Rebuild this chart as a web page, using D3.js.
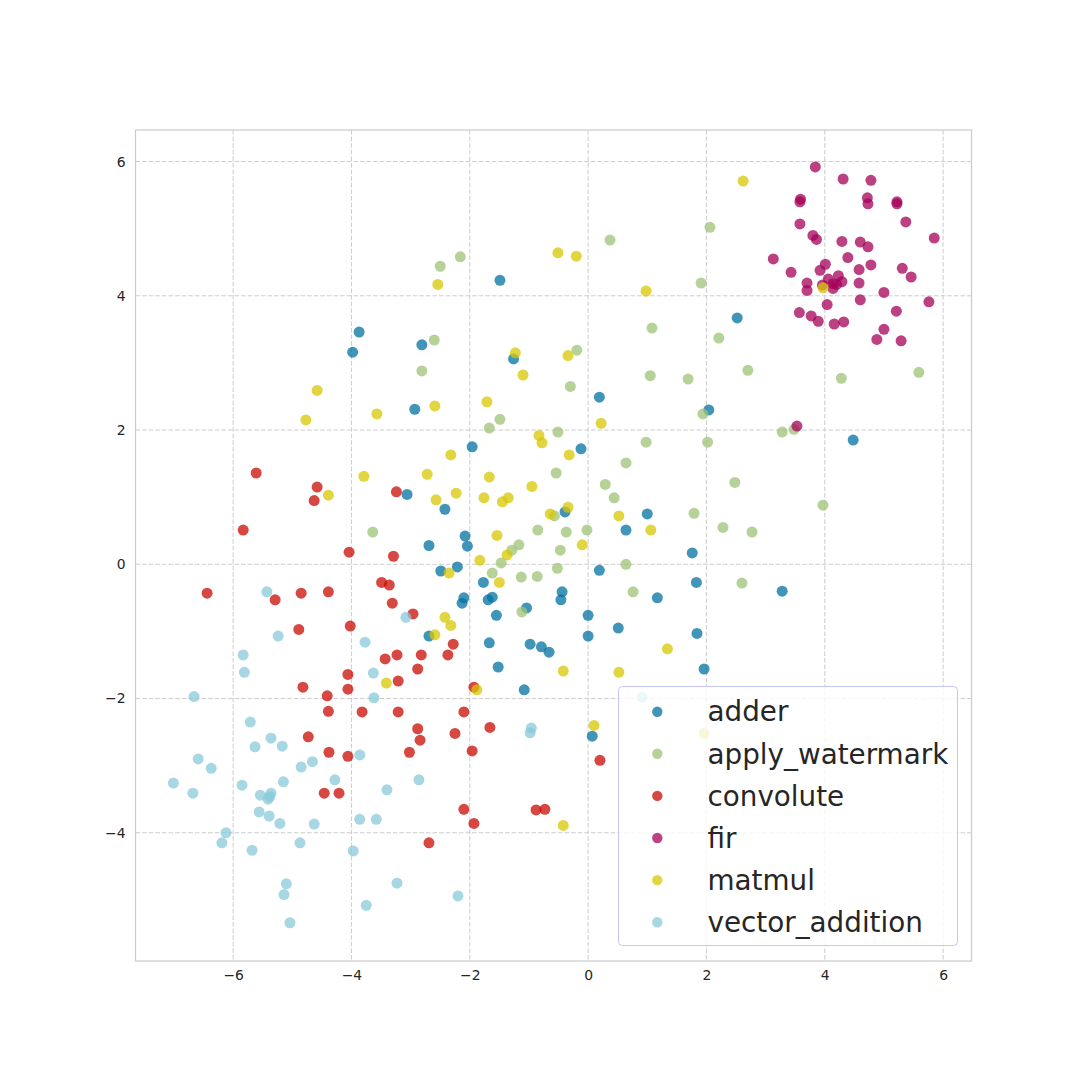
<!DOCTYPE html>
<html>
<head>
<meta charset="utf-8">
<script src="https://cdn.jsdelivr.net/npm/d3@7"></script>
<style>
  html, body { margin: 0; padding: 0; background: #ffffff; }
  svg { display: block; font-family: "DejaVu Sans", sans-serif; }
</style>
</head>
<body>
<svg id="chart" width="1080" height="1080"></svg>
<script>
// ---------- data ----------
const categories = ["adder", "apply_watermark", "convolute", "fir", "matmul", "vector_addition"];
const colors = ["#0272a2", "#9fc377", "#ca0b03", "#a50258", "#d7c703", "#88cada"];
const xTicks = [-6, -4, -2, 0, 2, 4, 6];
const yTicks = [-4, -2, 0, 2, 4, 6];

const adder = [
  [-3.87,3.46],[-1.49,4.23],[2.52,3.67],[-3.98,3.16],[-2.93,2.31],[-3.06,1.04],[-2.81,3.27],[-1.26,3.06],
  [0.19,2.49],[-1.96,1.75],[-0.12,1.72],[-2.42,0.82],[-0.39,0.78],[1.00,0.75],[-2.08,0.42],[-2.69,0.28],
  [-2.04,0.27],[0.64,0.51],[1.76,0.17],[2.04,2.30],[4.48,1.85],[-2.49,-0.10],[-2.21,-0.04],[-1.77,-0.27],
  [0.19,-0.09],[1.83,-0.27],[1.17,-0.50],[-2.10,-0.50],[-2.13,-0.58],[-1.69,-0.53],[-1.62,-0.49],[-0.44,-0.41],
  [-0.46,-0.53],[-1.04,-0.65],[-1.55,-0.76],[0.00,-0.76],[0.00,-1.07],[0.51,-0.95],[1.84,-1.03],[-2.69,-1.07],
  [-1.67,-1.17],[-0.98,-1.19],[-0.79,-1.23],[-0.66,-1.31],[-1.52,-1.53],[-1.08,-1.87],[0.07,-2.56],[3.28,-0.40],
  [1.96,-1.56]
];
const applyWatermark = [
  [-2.50,4.44],[-2.16,4.58],[0.37,4.83],[1.08,3.52],[-2.60,3.34],[2.06,5.02],[1.91,4.19],[2.21,3.37],
  [-3.64,0.48],[-0.19,3.19],[-2.81,2.88],[-0.30,2.65],[1.05,2.81],[1.69,2.76],[-1.49,2.16],[-1.67,2.03],
  [-0.51,1.97],[0.98,1.82],[0.64,1.51],[-0.54,1.36],[0.29,1.19],[0.44,0.99],[-0.57,0.72],[1.79,0.76],
  [-1.17,0.29],[-1.29,0.21],[-0.85,0.51],[-0.37,0.48],[-0.02,0.51],[-0.47,0.21],[2.70,2.89],[4.28,2.77],
  [5.59,2.86],[1.94,2.24],[3.28,1.97],[3.48,2.01],[2.02,1.82],[2.48,1.22],[3.97,0.88],[2.28,0.55],
  [2.77,0.48],[-1.47,0.02],[-1.62,-0.13],[-1.13,-0.19],[-0.86,-0.18],[-0.52,-0.06],[0.64,0.00],[0.76,-0.41],
  [-1.12,-0.71],[2.60,-0.28]
];
const convolute = [
  [-5.61,1.36],[-4.58,1.15],[-4.63,0.95],[-3.24,1.08],[-5.83,0.51],[-4.04,0.18],[-3.29,0.12],[-6.44,-0.43],
  [-5.29,-0.53],[-4.85,-0.43],[-4.39,-0.41],[-3.49,-0.27],[-3.36,-0.31],[-3.31,-0.58],[-2.96,-0.74],[-4.89,-0.97],
  [-4.02,-0.92],[-3.43,-1.41],[-3.23,-1.35],[-4.06,-1.64],[-2.88,-1.56],[-3.21,-1.74],[-4.82,-1.83],[-4.06,-1.86],
  [-4.41,-1.96],[-4.39,-2.19],[-3.82,-2.20],[-3.21,-2.20],[-4.73,-2.57],[-4.38,-2.80],[-4.06,-2.86],[-3.02,-2.80],
  [-2.28,-1.19],[-2.82,-1.35],[-2.37,-1.35],[-1.93,-1.83],[-2.10,-2.20],[-2.88,-2.45],[-2.84,-2.62],[-2.25,-2.52],
  [-1.66,-2.43],[-1.96,-2.78],[0.20,-2.92],[-4.46,-3.41],[-4.21,-3.41],[-2.10,-3.65],[-1.93,-3.86],[-0.88,-3.66],
  [-0.73,-3.65],[-2.69,-4.15]
];
const fir = [
  [3.84,5.92],[4.31,5.74],[4.78,5.72],[3.59,5.44],[3.58,5.40],[4.72,5.46],[4.73,5.37],[5.22,5.40],
  [5.22,5.37],[5.37,5.10],[3.58,5.07],[5.85,4.86],[3.80,4.90],[3.86,4.84],[4.29,4.81],[4.60,4.80],
  [4.73,4.73],[3.13,4.55],[4.39,4.57],[3.43,4.35],[4.01,4.47],[3.92,4.38],[4.58,4.39],[4.78,4.46],
  [5.31,4.41],[5.46,4.28],[3.70,4.19],[3.70,4.08],[4.06,4.25],[4.23,4.30],[4.14,4.18],[4.29,4.21],
  [4.20,4.17],[3.96,4.16],[4.14,4.11],[4.58,4.19],[5.00,4.05],[5.76,3.91],[4.04,3.87],[4.60,3.94],
  [5.21,3.77],[3.57,3.75],[3.77,3.70],[3.89,3.62],[4.16,3.58],[4.32,3.61],[5.00,3.50],[4.88,3.35],
  [5.29,3.33],[3.53,2.06]
];
const matmul = [
  [-2.54,4.17],[-0.51,4.64],[-0.20,4.59],[0.98,4.07],[2.62,5.71],[3.97,4.12],[-4.58,2.59],[-4.77,2.15],
  [-3.57,2.24],[-4.39,1.03],[-3.79,1.31],[-1.23,3.15],[-0.34,3.11],[-1.10,2.82],[-2.59,2.36],[-1.71,2.42],
  [0.22,2.10],[-0.83,1.92],[-0.78,1.81],[-2.32,1.63],[-0.32,1.63],[-2.72,1.34],[-1.67,1.30],[-0.95,1.16],
  [-2.57,0.96],[-2.23,1.06],[-1.76,0.99],[-1.45,0.93],[-1.35,0.99],[-0.34,0.85],[-0.64,0.75],[0.52,0.72],
  [1.06,0.51],[-1.54,0.43],[-0.10,0.29],[-2.35,-0.13],[-1.83,0.06],[-1.37,0.14],[-1.50,-0.27],[-2.42,-0.79],
  [-2.32,-0.91],[-2.59,-1.05],[-0.42,-1.59],[0.52,-1.61],[1.34,-1.26],[-1.88,-1.87],[0.10,-2.40],[1.96,-2.52],
  [-3.41,-1.77],[-0.42,-3.89]
];
const vectorAddition = [
  [-5.43,-0.41],[-3.08,-0.79],[-5.24,-1.07],[-3.77,-1.16],[-5.83,-1.35],[-5.81,-1.61],[-3.63,-1.62],[-6.66,-1.97],
  [-3.62,-1.99],[-5.71,-2.35],[-5.36,-2.59],[-5.63,-2.72],[-5.17,-2.71],[-3.86,-2.84],[-6.59,-2.90],[-4.66,-2.94],
  [0.91,-1.98],[-0.96,-2.44],[-0.98,-2.51],[-6.37,-3.04],[-7.01,-3.26],[-6.68,-3.41],[-5.85,-3.29],[-5.54,-3.44],
  [-5.36,-3.41],[-5.41,-3.50],[-5.38,-3.46],[-5.15,-3.24],[-4.85,-3.02],[-4.28,-3.21],[-3.40,-3.36],[-2.86,-3.21],
  [-5.56,-3.69],[-5.39,-3.75],[-5.21,-3.86],[-4.63,-3.87],[-3.86,-3.80],[-3.58,-3.80],[-6.12,-4.00],[-6.19,-4.15],
  [-5.68,-4.26],[-4.87,-4.15],[-3.97,-4.27],[-5.10,-4.76],[-5.14,-4.92],[-5.04,-5.34],[-3.23,-4.75],[-3.75,-5.08],
  [-2.20,-4.94]
];
const seriesValues = [adder, applyWatermark, convolute, fir, matmul, vectorAddition];

// ---------- layout ----------
const svg = d3.select("#chart");
const L = 135.5, R = 971.5, T = 130, B = 961;
const x = d3.scaleLinear().domain([-7.65, 6.48]).range([L, R]);
const y = d3.scaleLinear().domain([-5.91, 6.47]).range([B, T]);
const fmt = d => (d < 0 ? "\u2212" + Math.abs(d) : String(d));
const textColor = "#262626";
const gridColor = "#cccccc";

// grid
const grid = svg.append("g");
grid.selectAll("line.gx").data(xTicks).join("line")
  .attr("x1", d => x(d)).attr("x2", d => x(d)).attr("y1", T).attr("y2", B)
  .attr("stroke", gridColor).attr("stroke-width", 1).attr("stroke-dasharray", "4.6,2");
grid.selectAll("line.gy").data(yTicks).join("line")
  .attr("y1", d => y(d)).attr("y2", d => y(d)).attr("x1", L).attr("x2", R)
  .attr("stroke", gridColor).attr("stroke-width", 1).attr("stroke-dasharray", "4.6,2");

// axes (labels only)
const xAxis = svg.append("g").attr("transform", `translate(0,${B})`)
  .call(d3.axisBottom(x).tickValues(xTicks).tickFormat(fmt).tickSize(0).tickPadding(9));
const yAxis = svg.append("g").attr("transform", `translate(${L},0)`)
  .call(d3.axisLeft(y).tickValues(yTicks).tickFormat(fmt).tickSize(0).tickPadding(10));
[xAxis, yAxis].forEach(a => {
  a.select(".domain").remove();
  a.selectAll("text").attr("fill", textColor).style("font-size", "13.9px")
    .style("font-family", "'DejaVu Sans', sans-serif");
});

// points
seriesValues.forEach((pts, i) => {
  svg.append("g").selectAll("circle").data(pts).join("circle")
    .attr("cx", d => x(d[0])).attr("cy", d => y(d[1])).attr("r", 5.5)
    .attr("fill", colors[i]).attr("fill-opacity", 0.75);
});

// frame
svg.append("rect").attr("x", L).attr("y", T).attr("width", R - L).attr("height", B - T)
  .attr("fill", "none").attr("stroke", gridColor).attr("stroke-width", 1.25);

// legend
const lg = svg.append("g");
lg.append("rect").attr("x", 618.5).attr("y", 686.5).attr("width", 339).attr("height", 259).attr("rx", 4)
  .attr("fill", "#ffffff").attr("fill-opacity", 0.8).attr("stroke", "#c4c4fa").attr("stroke-width", 1);
const rows = lg.selectAll("g.row").data(categories).join("g")
  .attr("transform", (d, i) => `translate(0,${711.7 + i * 42.1})`);
rows.append("circle").attr("cx", 657.3).attr("cy", 0).attr("r", 5.2)
  .attr("fill", (d, i) => colors[i]).attr("fill-opacity", 0.75);
rows.append("text").attr("x", 707.5).attr("y", 0).attr("dy", "0.35em")
  .attr("fill", textColor).style("font-size", "27.8px").text(d => d);
</script>
</body>
</html>
